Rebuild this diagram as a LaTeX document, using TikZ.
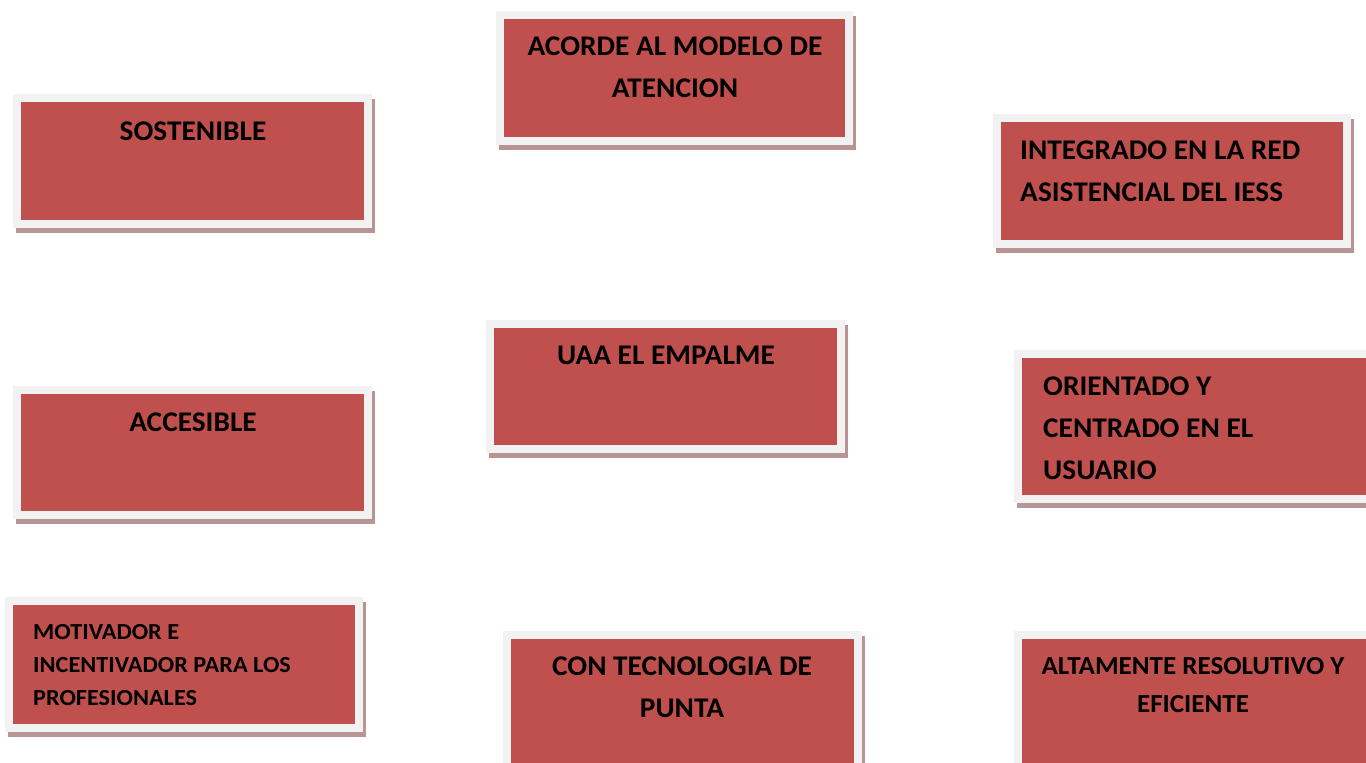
\documentclass[tikz,border=0pt]{standalone}
\usepackage{fontspec}
\setmainfont{Carlito}
\newfontfamily\bigfam[FakeStretch=1.03]{Carlito}
\newfontfamily\midfam[FakeStretch=1.04]{Carlito}
\newfontfamily\smallfam[FakeStretch=1.055]{Carlito}
\definecolor{boxred}{HTML}{C0504D}
\definecolor{framegray}{HTML}{F2F2F2}
\definecolor{shadowred}{HTML}{B99494}
\tikzset{
  frame/.style={fill=framegray, draw=none},
  shade/.style={fill=shadowred, draw=none},
  redbox/.style={fill=boxred, draw=none},
  lblc/.style={inner sep=0pt, anchor=base, text=black},
  lbll/.style={inner sep=0pt, anchor=base west, text=black},
}
\newcommand{\bigtxt}{\bigfam\fontsize{28.5}{42}\selectfont\bfseries}
\newcommand{\midtxt}{\midfam\fontsize{26}{38}\selectfont\bfseries}
\newcommand{\smalltxt}{\smallfam\fontsize{23}{33}\selectfont\bfseries}
\newcommand{\cardbox}[5]{%
  % #1 name, #2 x1, #3 y1, #4 x2, #5 y2 (outer frame)
  \fill[shade] ({#2+3},{#3+5}) rectangle ({#4+3},{#5+5});
  \fill[frame] (#2,#3) rectangle (#4,#5);
  \fill[redbox] ({#2+8},{#3+8}) rectangle ({#4-8},{#5-8});
}
\begin{document}
\begin{tikzpicture}[x=1pt,y=-1pt]
\useasboundingbox (0,0) rectangle (1366,763);
\clip (0,0) rectangle (1366,763);
\fill[white] (0,0) rectangle (1366,763);

% SOSTENIBLE
\cardbox{b1}{13}{94}{372}{228}
\node[lblc, font=\bigtxt] (sostenible) at (193,140) {SOSTENIBLE};

% ACORDE
\cardbox{b2}{496}{11}{853}{145}
\node[lblc, font=\bigtxt] (acorde) at (675,55) {\parbox[t]{340pt}{\centering ACORDE AL MODELO DE\\ATENCION}};

% INTEGRADO
\cardbox{b3}{993}{114}{1351}{248}
\node[lbll, font=\bigtxt] (integrado) at (1020,159) {\parbox[t]{320pt}{\raggedright INTEGRADO EN LA RED\\ASISTENCIAL DEL IESS}};

% UAA
\cardbox{b4}{486}{320}{845}{453}
\node[lblc, font=\bigtxt] (uaa) at (666,364) {UAA EL EMPALME};

% ACCESIBLE
\cardbox{b5}{13}{386}{372}{519}
\node[lblc, font=\bigtxt] (accesible) at (193,431) {ACCESIBLE};

% ORIENTADO
\cardbox{b6}{1014}{350}{1388}{503}
\node[lbll, font=\bigtxt] (orientado) at (1043,395) {\parbox[t]{300pt}{\raggedright ORIENTADO Y\\CENTRADO EN EL\\USUARIO}};

% MOTIVADOR
\cardbox{b7}{5}{597}{363}{732}
\node[lbll, font=\smalltxt] (motivador) at (33,639) {\parbox[t]{320pt}{\raggedright MOTIVADOR E\\INCENTIVADOR PARA LOS\\PROFESIONALES}};

% CON TECNOLOGIA
\cardbox{b8}{503}{631}{862}{773}
\node[lblc, font=\bigtxt] (tecnologia) at (682,675) {\parbox[t]{340pt}{\centering CON TECNOLOGIA DE\\PUNTA}};

% ALTAMENTE
\cardbox{b9}{1014}{631}{1390}{773}
\node[lblc, font=\midtxt] (altamente) at (1193,674) {\parbox[t]{340pt}{\centering ALTAMENTE RESOLUTIVO Y\\EFICIENTE}};
\end{tikzpicture}
\end{document}
